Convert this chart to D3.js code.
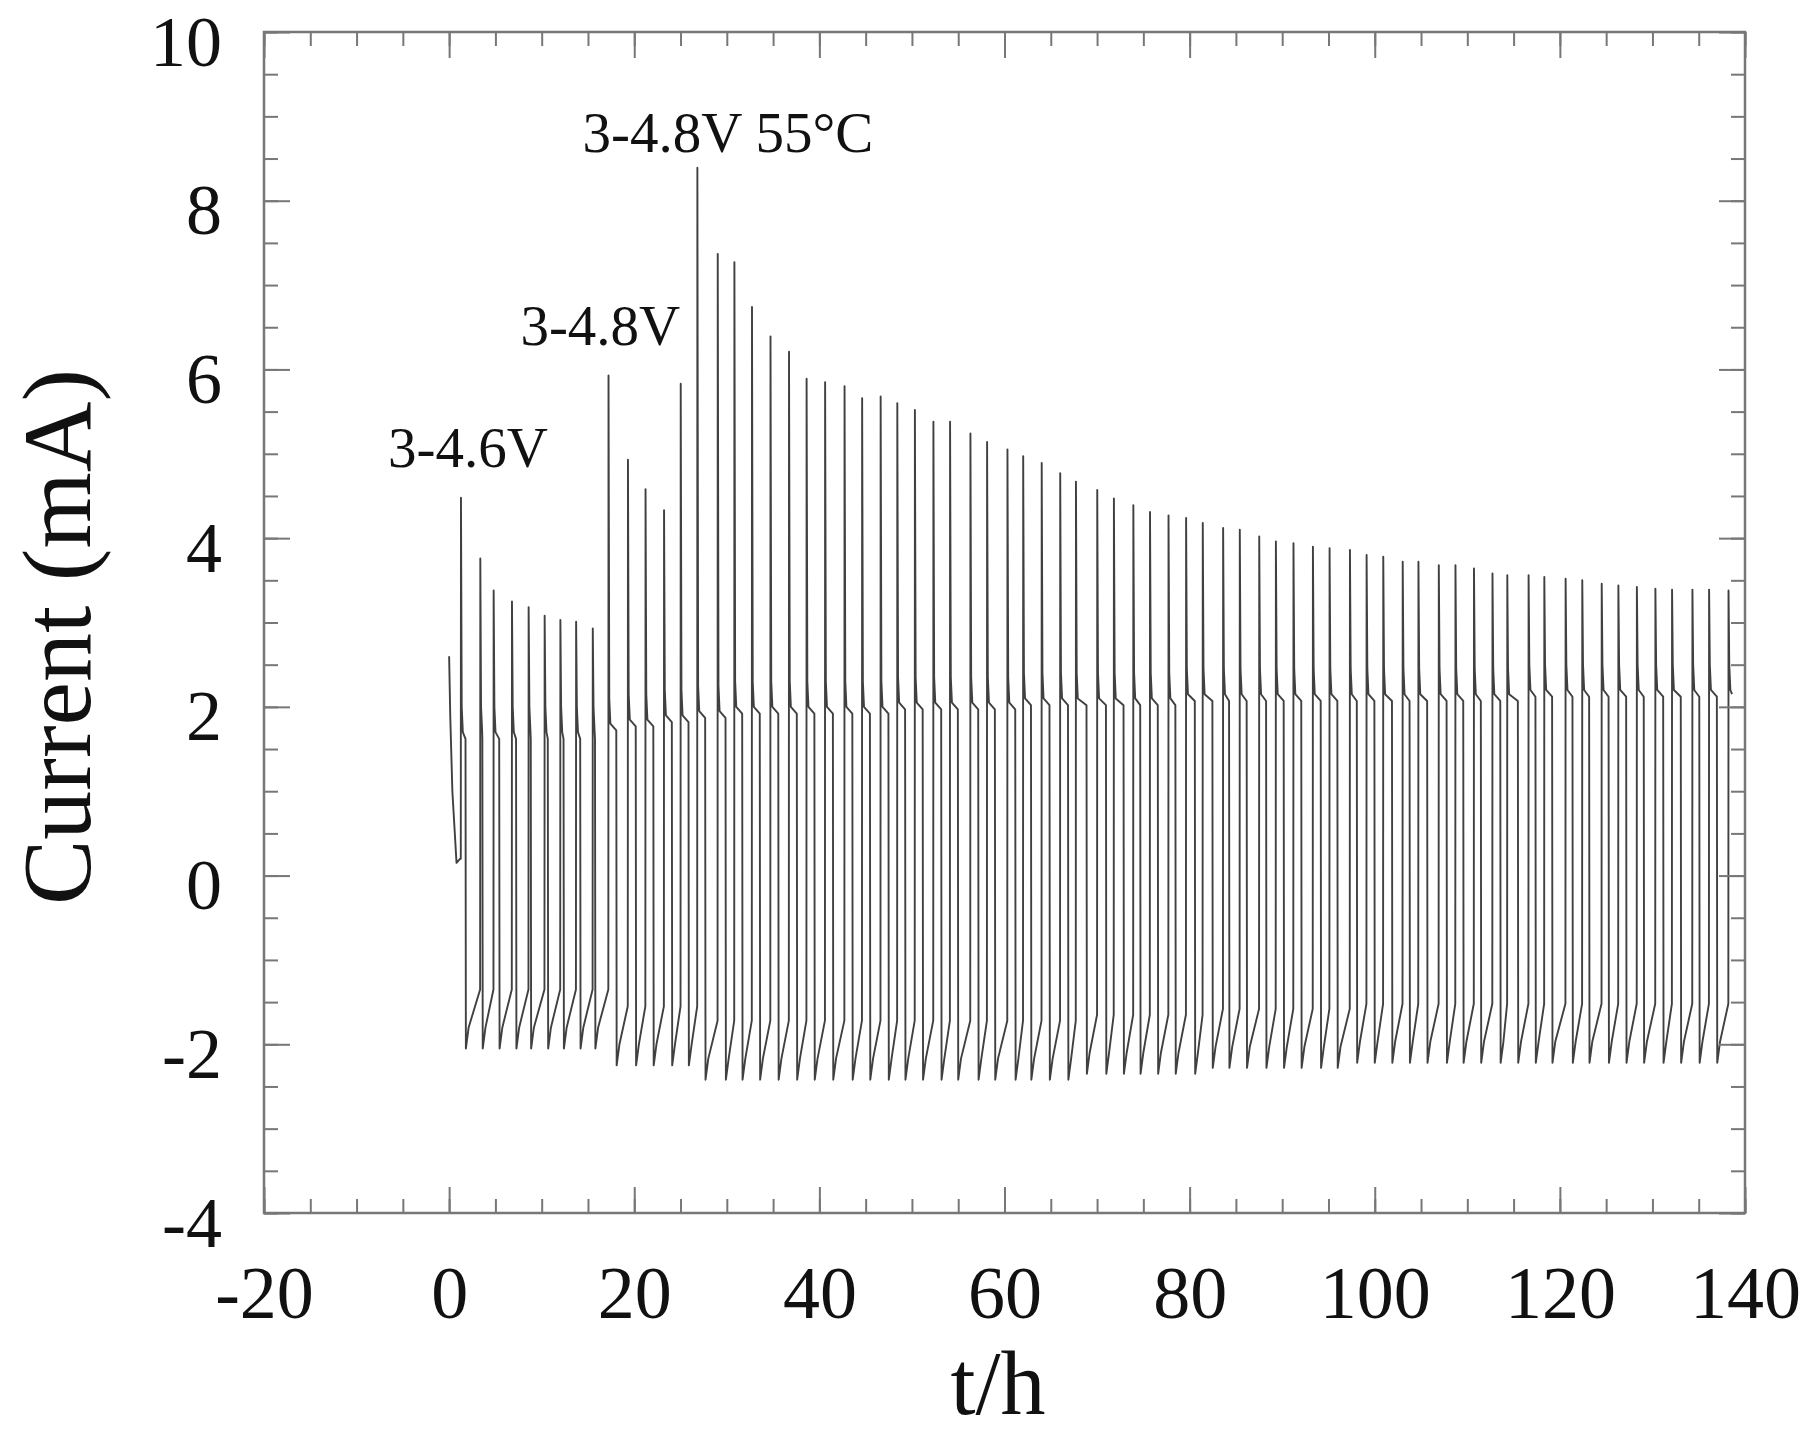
<!DOCTYPE html>
<html><head><meta charset="utf-8">
<script src="https://cdn.jsdelivr.net/npm/d3@7"></script>
<style>
body{margin:0;background:#fff}
text{font-family:"Liberation Serif","Times New Roman",serif;fill:#111}
</style>
</head><body>
<svg id="c" width="1800" height="1437"></svg>
<script>
// ---------- data ----------
const xTicks = [-20, 0, 20, 40, 60, 80, 100, 120, 140];
const yTicks = [-4, -2, 0, 2, 4, 6, 8, 10];

// first (formation) step before regular cycling
const initTimes    = [0.0, 0.12, 0.35, 0.8, 1.2];
const initCurrents = [2.6, 1.9, 1.0, 0.15, 0.2];

// start of each charge (current spike), h
const spikeTimes = [1.26, 3.35, 4.79, 6.77, 8.57, 10.3, 12.0, 13.7, 15.5,
  17.2, 19.3, 21.2, 23.2, 25.0, 26.8, 29.0, 30.8, 32.7, 34.7, 36.7, 38.6, 40.6,
  42.7, 44.6, 46.6, 48.4, 50.3, 52.3, 54.1, 56.3, 58.1, 60.3, 62.0, 64.0, 66.0,
  67.7, 70.0, 71.8, 73.9, 75.7, 77.7, 79.6, 81.4, 83.6, 85.4, 87.5, 89.3, 91.2,
  93.3, 95.1, 97.3, 99.1, 100.9, 103.0, 104.7, 106.9, 108.7, 110.7, 112.7, 114.3,
  116.6, 118.3, 120.6, 122.4, 124.5, 126.3, 128.3, 130.3, 132.1, 134.3, 136.1, 138.2];
// spike peak current, mA
const spikePeaks = [4.48, 3.76, 3.38, 3.25, 3.18, 3.08, 3.03, 3.01, 2.93,
  5.93, 4.93, 4.58, 4.33, 5.83, 8.39, 7.37, 7.27, 6.74, 6.39, 6.21, 5.89, 5.85,
  5.80, 5.66, 5.68, 5.60, 5.52, 5.38, 5.38, 5.24, 5.14, 5.05, 4.97, 4.89, 4.77,
  4.67, 4.57, 4.47, 4.39, 4.31, 4.27, 4.24, 4.18, 4.12, 4.10, 4.02, 3.96, 3.94,
  3.90, 3.88, 3.86, 3.80, 3.78, 3.72, 3.72, 3.68, 3.68, 3.64, 3.58, 3.56,
  3.56, 3.54, 3.52, 3.50, 3.46, 3.44, 3.42, 3.40, 3.39, 3.39, 3.39, 3.38];
// charge plateau current, mA
const chargeLevels = [1.70, 1.70, 1.70, 1.70, 1.70, 1.70, 1.70, 1.70, 1.70,
  1.80, 1.85, 1.85, 1.90, 1.90, 1.95, 1.95, 2.00, 2.00,
  2.00, 2.00, 2.00, 2.00, 2.00, 2.00, 2.00, 2.05, 2.05, 2.05, 2.05, 2.05, 2.05, 2.05, 2.10, 2.10, 2.10, 2.10,
  2.10, 2.10, 2.10, 2.10, 2.10, 2.15, 2.15, 2.15, 2.15, 2.15, 2.15, 2.15, 2.15, 2.15, 2.15, 2.15, 2.15, 2.15,
  2.15, 2.15, 2.15, 2.15, 2.15, 2.15, 2.20, 2.20, 2.20, 2.20, 2.20, 2.20, 2.20, 2.20, 2.20, 2.20, 2.20, 2.20];
// start of each discharge, h
const dischargeTimes = [1.81, 3.63, 5.45, 7.27, 8.86, 10.7, 12.4, 14.2, 15.8,
  18.1, 20.2, 22.1, 24.1, 25.9, 27.7, 29.9, 31.7, 33.6, 35.6, 37.6, 39.5, 41.5,
  43.6, 45.5, 47.5, 49.3, 51.2, 53.2, 55.0, 57.2, 59.0, 61.2, 62.9, 64.9, 66.9,
  68.9, 71.0, 72.9, 74.7, 76.6, 78.5, 80.6, 82.5, 84.3, 86.2, 88.3, 90.2, 92.1,
  94.2, 96.0, 98.1, 100.0, 101.9, 103.8, 105.7, 107.8, 109.6, 111.5, 113.6, 115.5,
  117.4, 119.2, 121.4, 123.2, 125.3, 127.2, 129.1, 131.2, 133.1, 135.1, 137.0];
// discharge current at its start, mA
const dischargeLevels = [-2.05, -2.05, -2.05, -2.05, -2.05, -2.05, -2.05, -2.05, -2.05,
  -2.25, -2.25, -2.25, -2.25, -2.25,
  -2.42, -2.42, -2.42, -2.42, -2.42, -2.42, -2.42, -2.42, -2.42, -2.42, -2.42,
  -2.42, -2.42, -2.42, -2.42, -2.42, -2.42, -2.42, -2.42, -2.42, -2.42,
  -2.35, -2.35, -2.35, -2.35, -2.35, -2.35, -2.35,
  -2.28, -2.28, -2.28, -2.28, -2.28, -2.28, -2.28, -2.28,
  -2.22, -2.22, -2.22, -2.22, -2.22, -2.22, -2.22, -2.22, -2.22, -2.22, -2.22,
  -2.22, -2.22, -2.22, -2.22, -2.22, -2.22, -2.22, -2.22, -2.22, -2.22];
const traceEnd = 138.6;

const labelTexts = ["3-4.6V", "3-4.8V", "3-4.8V 55\u00B0C"];
const labelT = [-6.6, 7.7, 14.4];
const labelV = [4.84, 6.29, 8.58];

// ---------- layout ----------
const svg = d3.select("#c");
const L = 264, R = 1745, T = 32, B = 1213;
const x = d3.scaleLinear().domain([-20, 140]).range([L, R]);
const y = d3.scaleLinear().domain([-4, 10]).range([B, T]);
const axisColor = "#777";
const MAJ = 26, MIN = 14;
const fmt = d => String(d);

svg.append("rect").attr("width", 1800).attr("height", 1437).attr("fill", "#fff");

// ---------- trace ----------
const pts = [];
initTimes.forEach((t, i) => pts.push([t, initCurrents[i]]));
let low = initCurrents[initCurrents.length - 1];
for (let i = 0; i < spikeTimes.length; i++) {
  const ts = spikeTimes[i], P = spikePeaks[i], C = chargeLevels[i];
  pts.push([ts, low]);
  pts.push([ts + 0.02, P]);
  pts.push([ts + 0.1, C + 0.3]);
  pts.push([ts + 0.22, C]);
  if (i < dischargeTimes.length) {
    const td = dischargeTimes[i], D = dischargeLevels[i];
    pts.push([td - 0.04, C - 0.08]);
    pts.push([td, D]);
    pts.push([td + 0.3, D + 0.25]);
    low = D + 0.7;
  } else {
    pts.push([traceEnd, C - 0.05]);
  }
}
const line = d3.line().x(d => x(d[0])).y(d => y(d[1]));
svg.append("path").datum(pts).attr("d", line)
  .attr("fill", "none").attr("stroke", "#404040").attr("stroke-width", 1.9)
  .attr("stroke-linejoin", "round");

// ---------- axes ----------
function styleAxis(g) {
  g.select(".domain").remove();
  g.selectAll(".tick line").attr("stroke", axisColor).attr("stroke-width", 2);
}
const xMinor = d3.range(-20, 140.1, 5);
const yMinor = d3.range(-4, 10.01, 0.5);
const fontFam = '"Liberation Serif","Times New Roman",serif';

// bottom
svg.append("g").attr("transform", `translate(0,${B})`)
  .call(d3.axisBottom(x).tickValues(xMinor).tickSize(-MIN).tickFormat(""))
  .call(styleAxis);
svg.append("g").attr("transform", `translate(0,${B})`)
  .call(d3.axisBottom(x).tickValues(xTicks).tickSize(-MAJ).tickPadding(52).tickFormat(fmt))
  .call(styleAxis)
  .call(g => g.selectAll("text").attr("font-size", 74).attr("fill", "#111").style("font-family", fontFam));
// top
svg.append("g").attr("transform", `translate(0,${T})`)
  .call(d3.axisTop(x).tickValues(xMinor).tickSize(-MIN).tickFormat(""))
  .call(styleAxis);
svg.append("g").attr("transform", `translate(0,${T})`)
  .call(d3.axisTop(x).tickValues(xTicks).tickSize(-MAJ).tickFormat(""))
  .call(styleAxis);
// left
svg.append("g").attr("transform", `translate(${L},0)`)
  .call(d3.axisLeft(y).tickValues(yMinor).tickSize(-MIN).tickFormat(""))
  .call(styleAxis);
svg.append("g").attr("transform", `translate(${L},0)`)
  .call(d3.axisLeft(y).tickValues(yTicks).tickSize(-MAJ).tickPadding(42).tickFormat(fmt))
  .call(styleAxis)
  .call(g => g.selectAll("text").attr("font-size", 72).attr("dy", "0.46em").attr("fill", "#111").style("font-family", fontFam));
// right
svg.append("g").attr("transform", `translate(${R},0)`)
  .call(d3.axisRight(y).tickValues(yMinor).tickSize(-MIN).tickFormat(""))
  .call(styleAxis);
svg.append("g").attr("transform", `translate(${R},0)`)
  .call(d3.axisRight(y).tickValues(yTicks).tickSize(-MAJ).tickFormat(""))
  .call(styleAxis);

// frame
svg.append("rect").attr("x", L).attr("y", T).attr("width", R - L).attr("height", B - T)
  .attr("fill", "none").attr("stroke", axisColor).attr("stroke-width", 2.5);

// ---------- annotations ----------
labelTexts.forEach((s, i) => {
  svg.append("text").attr("x", x(labelT[i])).attr("y", y(labelV[i]))
    .attr("font-size", 57).text(s);
});

// ---------- axis titles ----------
svg.append("text").attr("x", 998).attr("y", 1414).attr("text-anchor", "middle")
  .attr("font-size", 90).text("t/h");
svg.append("text").attr("transform", "translate(90,637) rotate(-90)")
  .attr("text-anchor", "middle").attr("font-size", 98).text("Current (mA)");
</script>
</body></html>
